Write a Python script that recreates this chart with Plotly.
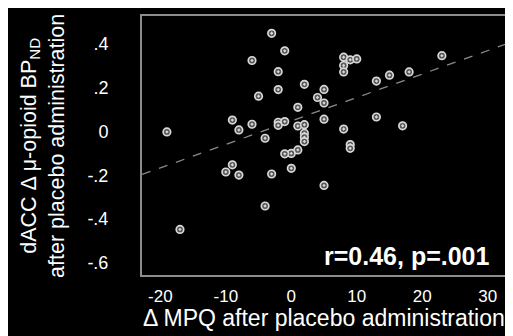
import plotly.graph_objects as go

# change in MPQ score vs change in dACC mu-opioid BPnd
mpq_change = [-3, -1, -6, -2, 2, -2, -5, 4, 1, -9, -6, -8, -2, -2, -1, 1, 2, 2, 2, 2,
              -19, -4, 1, 0, -1, -9, -10, -8, -3, 0, -4, -17, 5, 5, 5, 5,
              8, 8, 8, 9, 10, 23, 13, 15, 18, 13, 17, 8, 9, 9]
bp_change = [0.448, 0.368, 0.324, 0.273, 0.215, 0.191, 0.161, 0.155, 0.110, 0.052,
             0.033, 0.007, 0.042, 0.028, 0.045, 0.025, 0.031, -0.008, -0.026, -0.046,
             -0.002, -0.031, -0.084, -0.100, -0.102, -0.152, -0.185, -0.199, -0.194, -0.168,
             -0.340, -0.447, -0.246, 0.192, 0.130, 0.056, 0.339, 0.301, 0.272, 0.327,
             0.331, 0.346, 0.230, 0.257, 0.272, 0.066, 0.026, 0.011, -0.060, -0.077]

fit_slope = 0.0107
fit_intercept = 0.048
x_range = [-22.8, 33.1]
y_range = [-0.655, 0.527]

y_ticks = [0.4, 0.2, 0, -0.2, -0.4, -0.6]
y_ticktext = [".4", ".2", "0", "-.2", "-.4", "-.6"]
x_ticks = [-20, -10, 0, 10, 20, 30]
x_ticktext = ["-20", "-10", "0", "10", "20", "30"]

FONT = "Liberation Sans, Arial, sans-serif"

fig = go.Figure()

fig.add_trace(go.Scatter(
    x=x_range,
    y=[fit_intercept + fit_slope * v for v in x_range],
    mode="lines",
    line=dict(color="#8a8a8a", width=1.3, dash="dash"),
    hoverinfo="skip",
))

fig.add_trace(go.Scatter(
    x=mpq_change,
    y=bp_change,
    mode="markers",
    marker=dict(symbol="circle-dot", size=7.5, color="#555555",
                line=dict(color="#d8d8d8", width=1.7)),
))

fig.add_annotation(
    text="r=0.46, p=.001", xref="paper", yref="paper", x=0.956, y=0.073,
    xanchor="right", yanchor="middle", showarrow=False,
    font=dict(family=FONT, size=25, color="white", weight="bold"),
)

fig.add_annotation(
    text="dACC Δ μ-opioid BP<sub>ND</sub><br>after placebo administration",
    xref="paper", yref="paper", x=-0.272, y=0.5, textangle=-90,
    xanchor="center", yanchor="middle", showarrow=False,
    font=dict(family=FONT, size=21.5, color="white"),
)

fig.add_annotation(
    text="Δ MPQ after placebo administration",
    xref="paper", yref="paper", x=0.497, y=-0.166,
    xanchor="center", yanchor="middle", showarrow=False,
    font=dict(family=FONT, size=23, color="white"),
)

# page body has an 8px margin, so the figure is sized/offset to compensate
fig.update_layout(
    width=505, height=328,
    paper_bgcolor="black", plot_bgcolor="black",
    showlegend=False,
    margin=dict(l=134, r=5, t=8, b=61),
    font=dict(family=FONT, color="white"),
)
fig.update_xaxes(
    range=x_range, tickvals=x_ticks, ticktext=x_ticktext, showgrid=False, zeroline=False,
    automargin=False,
    showline=True, mirror=True, linecolor="#8c8c8c", linewidth=2,
    ticks="outside", ticklen=5, tickcolor="black",
    tickfont=dict(size=17, color="white"),
)
fig.update_yaxes(
    range=y_range, tickvals=y_ticks, ticktext=y_ticktext, showgrid=False, zeroline=False,
    automargin=False,
    showline=True, mirror=True, linecolor="#8c8c8c", linewidth=2,
    ticks="outside", ticklen=28, tickcolor="black",
    tickfont=dict(size=18, color="white"),
)

fig.write_html("out.html")
